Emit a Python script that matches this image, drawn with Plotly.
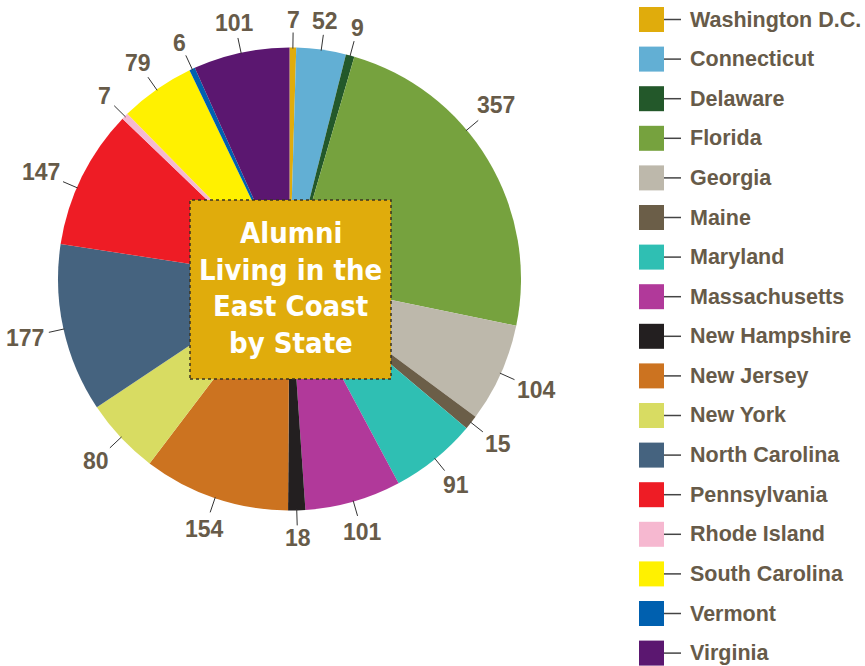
import math
import plotly.graph_objects as go

W, H = 865, 666

states = ["Washington D.C.", "Connecticut", "Delaware", "Florida", "Georgia", "Maine",
          "Maryland", "Massachusetts", "New Hampshire", "New Jersey", "New York",
          "North Carolina", "Pennsylvania", "Rhode Island", "South Carolina", "Vermont", "Virginia"]
alumni = [7, 52, 9, 357, 104, 15, 91, 101, 18, 154, 80, 177, 147, 7, 79, 6, 101]
colors = ["#e0ac0c", "#62afd4", "#23582a", "#76a23e", "#bdb8ab", "#6b5e48", "#2fbfb3",
          "#b1399a", "#231f20", "#cc7320", "#d8dc62", "#45637f", "#ee1c25", "#f6b8d0",
          "#fff100", "#0060af", "#5b1770"]
title_lines = ["Alumni", "Living in the", "East Coast", "by State"]

# label angle nudges (degrees) for readability, as in the original
label_nudge = {"Florida": -9, "Pennsylvania": -3}

TXT = "#675b49"
FONT = "Liberation Sans, Arial, sans-serif"

cx, cy, R = 289.5, 279.0, 231.5

def px(x):
    return x / W

def py(y):
    return 1 - y / H

fig = go.Figure(go.Pie(
    labels=states, values=alumni, sort=False, direction="clockwise", rotation=0,
    marker=dict(colors=colors, line=dict(width=0)),
    textinfo="none", hoverinfo="label+value", showlegend=False,
    domain=dict(x=[px(cx - R), px(cx + R)], y=[py(cy + R), py(cy - R)]),
))

shapes = []
annotations = []

total = sum(alumni)
cum = 0
for name, v in zip(states, alumni):
    mid = (cum + v / 2) / total * 360 + label_nudge.get(name, 0)
    cum += v
    th = math.radians(mid)
    s, c = math.sin(th), math.cos(th)
    x0, y0 = cx + (R - 1) * s, cy - (R - 1) * c
    x1, y1 = cx + (R + 15) * s, cy - (R + 15) * c
    shapes.append(dict(type="line", xref="paper", yref="paper",
                       x0=px(x0), y0=py(y0), x1=px(x1), y1=py(y1),
                       line=dict(color="#333333", width=1)))
    wtxt = 12.5 * len(str(v))
    rl = R + 19 + abs(s) * wtxt / 2 + abs(c) * 8
    lx, ly = cx + rl * s, cy - rl * c
    annotations.append(dict(xref="paper", yref="paper", x=px(lx), y=py(ly),
                            text="<b>%d</b>" % v, showarrow=False,
                            xanchor="center", yanchor="middle",
                            font=dict(family=FONT, size=23, color=TXT)))

# centre title box
shapes.append(dict(type="rect", xref="paper", yref="paper",
                   x0=px(190), x1=px(391), y0=py(379), y1=py(200),
                   fillcolor="#e0ac0c", line=dict(color="#3a3320", width=1.5, dash="dot"),
                   layer="above"))
for i, t in enumerate(title_lines):
    annotations.append(dict(xref="paper", yref="paper", x=px(290.5), y=py(233 + i * 36.6),
                            text="<b>%s</b>" % t, showarrow=False,
                            xanchor="center", yanchor="middle",
                            font=dict(family="Liberation Sans Narrow, DejaVu Sans Condensed, Arial Narrow, sans-serif",
                                      size=29, color="white")))

# custom legend
for i, (name, col) in enumerate(zip(states, colors)):
    yc = 19.5 + i * 39.6
    shapes.append(dict(type="rect", xref="paper", yref="paper",
                       x0=px(639), x1=px(664), y0=py(yc + 12.5), y1=py(yc - 12.5),
                       fillcolor=col, line=dict(width=0)))
    shapes.append(dict(type="line", xref="paper", yref="paper",
                       x0=px(664), x1=px(681), y0=py(yc), y1=py(yc),
                       line=dict(color="#444444", width=1.5)))
    annotations.append(dict(xref="paper", yref="paper", x=px(688), y=py(yc),
                            text="<b>%s</b>" % name, showarrow=False,
                            xanchor="left", yanchor="middle",
                            font=dict(family=FONT, size=21.5, color=TXT)))

fig.update_layout(width=W, height=H, margin=dict(l=0, r=0, t=0, b=0),
                  paper_bgcolor="white", plot_bgcolor="white",
                  shapes=shapes, annotations=annotations)

fig.write_html("out.html", config={"displayModeBar": False},
               post_script="document.body.style.margin='0px';document.body.style.overflow='hidden';")
